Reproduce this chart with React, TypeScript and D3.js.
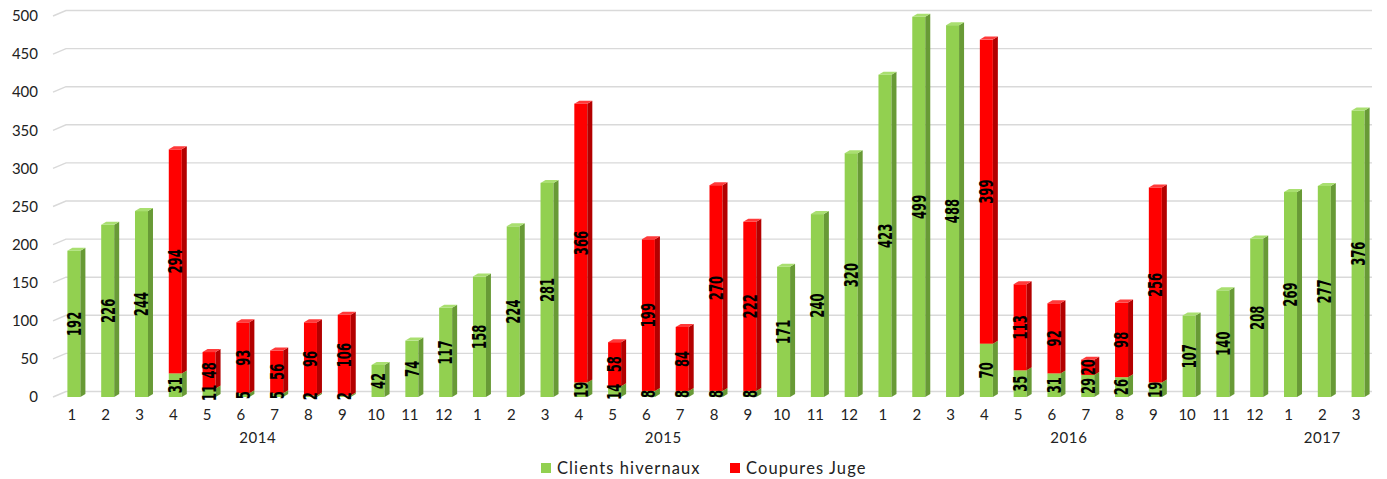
import React, { useEffect, useRef } from 'react';
import * as d3 from 'd3';

const months = ['1','2','3','4','5','6','7','8','9','10','11','12','1','2','3','4','5','6','7','8','9','10','11','12','1','2','3','4','5','6','7','8','9','10','11','12','1','2','3'];
const years = [
  { label: '2014', from: 0, to: 11 },
  { label: '2015', from: 12, to: 23 },
  { label: '2016', from: 24, to: 35 },
  { label: '2017', from: 36, to: 38 },
];
const clients = [192, 226, 244, 31, 11, 5, 5, 2, 2, 42, 74, 117, 158, 224, 281, 19, 14, 8, 8, 8, 8, 171, 240, 320, 423, 499, 488, 70, 35, 31, 29, 26, 19, 107, 140, 208, 269, 277, 376];
const coupures = [0, 0, 0, 294, 48, 93, 56, 96, 106, 0, 0, 0, 0, 0, 0, 366, 58, 199, 84, 270, 222, 0, 0, 0, 0, 0, 0, 399, 113, 92, 20, 98, 256, 0, 0, 0, 0, 0, 0];
const yTicks = [0, 50, 100, 150, 200, 250, 300, 350, 400, 450, 500];

const W = 1387;
const H = 479;
const axisFont = 'Lato, "Open Sans", sans-serif';

const App: React.FC = () => {
  const svgRef = useRef<SVGSVGElement>(null);

  useEffect(() => {
    if (!svgRef.current) return;
    const svg = d3.select(svgRef.current);
    svg.selectAll('*').remove();

    const y = d3.scaleLinear().domain([0, 500]).range([397, 16]);
    const idx = d3.range(months.length).map(String);
    const x = d3.scaleBand().domain(idx).range([55, 1373]);
    const cx = (i: number) => (x(String(i)) as number) + x.bandwidth() / 2;

    const dx = 5, dy = 3, bw = 13;
    const wallX0 = 66, wallX1 = 1372;

    // gridlines on the back wall with the floor diagonal
    const grid = svg.append('g').attr('stroke', '#d9d9d9').attr('stroke-width', 1.4).attr('fill', 'none');
    yTicks.forEach(t => {
      const yy = y(t);
      grid.append('path').attr('d', `M53,${yy} L${wallX0},${yy - 5.5} L${wallX1},${yy - 5.5}`);
    });

    svg.append('g')
      .selectAll('text')
      .data(yTicks)
      .join('text')
      .attr('x', 38)
      .attr('y', d => y(d))
      .attr('dy', '0.35em')
      .attr('text-anchor', 'end')
      .attr('font-family', axisFont)
      .attr('font-size', 15)
      .attr('fill', '#222')
      .text(d => d);

    const series = [
      { values: clients, base: clients.map(() => 0), front: '#92D050', top: '#a9df70', side: '#689a36' },
      { values: coupures, base: clients, front: '#FF0000', top: '#ff3a3a', side: '#b30000' },
    ];

    const bars = svg.append('g');
    months.forEach((_, i) => {
      series.forEach(s => {
        const v = s.values[i];
        if (!v) return;
        const x0 = cx(i) - bw / 2 + 2;
        const yb = y(s.base[i]);
        const yt = y(s.base[i] + v);
        bars.append('rect').attr('x', x0).attr('y', yt).attr('width', bw).attr('height', yb - yt).attr('fill', s.front);
        bars.append('path')
          .attr('d', `M${x0 + bw},${yt} L${x0 + bw + dx},${yt - dy} L${x0 + bw + dx},${yb - dy} L${x0 + bw},${yb}Z`)
          .attr('fill', s.side);
        bars.append('path')
          .attr('d', `M${x0},${yt} L${x0 + dx},${yt - dy} L${x0 + bw + dx},${yt - dy} L${x0 + bw},${yt}Z`)
          .attr('fill', s.top);
      });
    });

    // data labels, rotated and condensed
    const labels = svg.append('g');
    months.forEach((_, i) => {
      series.forEach(s => {
        const v = s.values[i];
        if (!v) return;
        const lx = cx(i) + 2;
        const ly = (y(s.base[i]) + y(s.base[i] + v)) / 2;
        labels.append('text')
          .attr('transform', `translate(${lx},${ly}) rotate(-90) scale(0.68,1)`)
          .attr('text-anchor', 'middle')
          .attr('dy', '0.36em')
          .attr('font-family', '"DejaVu Sans Condensed", "DejaVu Sans", sans-serif')
          .attr('font-weight', 'bold')
          .attr('font-size', 19)
          .attr('fill', '#000')
          .text(v);
      });
    });

    // category labels
    svg.append('g')
      .selectAll('text')
      .data(months)
      .join('text')
      .attr('x', (_, i) => cx(i))
      .attr('y', 420)
      .attr('text-anchor', 'middle')
      .attr('font-family', axisFont)
      .attr('font-size', 15)
      .attr('fill', '#222')
      .text(d => d);

    svg.append('g')
      .selectAll('text')
      .data(years)
      .join('text')
      .attr('x', d => (cx(d.from) + cx(d.to)) / 2)
      .attr('y', 443)
      .attr('text-anchor', 'middle')
      .attr('font-family', axisFont)
      .attr('font-size', 15)
      .attr('letter-spacing', 0.6)
      .attr('fill', '#222')
      .text(d => d.label);

    // legend
    const legend = [
      { label: 'Clients hivernaux', color: '#92D050', x: 541 },
      { label: 'Coupures Juge', color: '#FF0000', x: 730 },
    ];
    const lg = svg.append('g');
    legend.forEach(l => {
      lg.append('rect').attr('x', l.x).attr('y', 463).attr('width', 10).attr('height', 10).attr('fill', l.color);
      lg.append('text')
        .attr('x', l.x + 16)
        .attr('y', 474)
        .attr('font-family', axisFont)
        .attr('font-size', 16.5)
        .attr('letter-spacing', 1.1)
        .attr('fill', '#222')
        .text(l.label);
    });
  }, []);

  return (
    <svg
      ref={svgRef}
      width={W}
      height={H}
      style={{ position: 'absolute', left: 0, top: 0, background: '#fff' }}
    />
  );
};

export default App;
